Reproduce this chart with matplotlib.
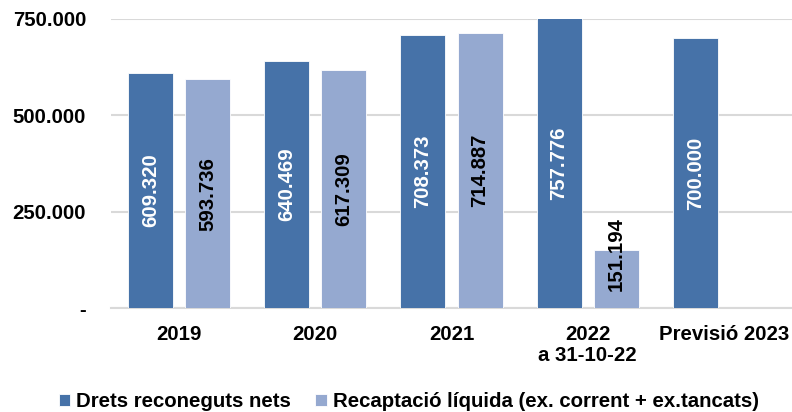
import numpy as np
from matplotlib import pyplot as plt

plt.rcParams['font.family'] = ['Liberation Sans', 'DejaVu Sans']
plt.rcParams['font.weight'] = 'bold'

categories = ['2019', '2020', '2021', '2022\na 31-10-22', 'Previsió 2023']
drets = [609320, 640469, 708373, 757776, 700000]
recaptacio = [593736, 617309, 714887, 151194, None]
drets_labels = ['609.320', '640.469', '708.373', '757.776', '700.000']
recap_labels = ['593.736', '617.309', '714.887', '151.194', '']
yticks = [0, 250000, 500000, 750000]
ytick_labels = ['-', '250.000', '500.000', '750.000']

dark = '#4672A8'
light = '#95A9D0'
ymax = 750000
fs = 14.7

fig = plt.figure(figsize=(7.92, 4.12), dpi=100)
ax = fig.add_axes([0.1402, 0.2524, 0.8598, 0.7015])

x = np.arange(len(categories))
w = 0.33
off = 0.21

ax.bar(x - off, drets, w, color=dark, edgecolor='white', linewidth=0.6, zorder=3,
       label='Drets reconeguts nets')
rx = [xi for xi, v in zip(x, recaptacio) if v is not None]
rv = [v for v in recaptacio if v is not None]
ax.bar(np.array(rx) + off, rv, w, color=light, edgecolor='white', linewidth=0.6, zorder=3,
       label='Recaptació líquida (ex. corrent + ex.tancats)')

# labels inside bars, rotated
for xi, v, lab in zip(x, drets, drets_labels):
    ax.text(xi - off, min(v, ymax) / 2, lab, rotation=90, ha='center', va='center',
            color='white', fontsize=fs, fontweight='bold', zorder=4)
for xi, v, lab in zip(x, recaptacio, recap_labels):
    if v is None:
        continue
    ypos = max(v / 2, 140000)  # short bar: label sticks out above
    ax.text(xi + off, ypos, lab, rotation=90, ha='center', va='center',
            color='black', fontsize=fs, fontweight='bold', zorder=4)

ax.set_xlim(-0.5, len(categories) - 0.5)
ax.set_ylim(0, ymax)
ax.set_yticks(yticks)
ax.set_yticklabels(ytick_labels)
ax.set_xticks(x)
ax.set_xticklabels(categories, linespacing=1.15)
ax.tick_params(axis='y', length=0, pad=18, labelsize=fs)
ax.tick_params(axis='x', length=0, pad=12, labelsize=fs)

ax.grid(axis='y', color='#D9D9D9', linewidth=1.5, zorder=0)
for s in ['top', 'right', 'left']:
    ax.spines[s].set_visible(False)
ax.spines['bottom'].set_color('#D9D9D9')
ax.spines['bottom'].set_linewidth(1.5)

fig.legend(loc='center', bbox_to_anchor=(0.516, 0.025), ncol=2, frameon=False,
           fontsize=fs, handlelength=0.55, handleheight=0.55, handletextpad=0.3,
           columnspacing=1.2)

fig.savefig('out.png', dpi=100)
